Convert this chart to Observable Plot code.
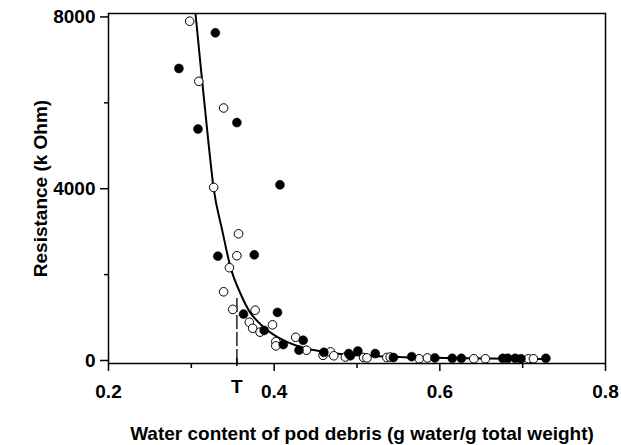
<!DOCTYPE html>
<html>
<head>
<meta charset="utf-8">
<script src="https://cdn.jsdelivr.net/npm/d3@7"></script>
<script src="https://cdn.jsdelivr.net/npm/@observablehq/plot@0.6"></script>
<style>
  html, body { margin: 0; padding: 0; background: #fff; }
  #chart svg { font-family: "Liberation Sans", Arial, Helvetica, sans-serif; }
</style>
</head>
<body>
<div id="chart"></div>
<script>
// Open circles (series 1)
const openX = [0.298, 0.309, 0.339, 0.327, 0.357, 0.355, 0.346, 0.339, 0.350, 0.377, 0.370, 0.374, 0.383, 0.398, 0.402, 0.402, 0.426, 0.439, 0.459, 0.468, 0.472, 0.486, 0.508, 0.512, 0.536, 0.540, 0.575, 0.585, 0.641, 0.655, 0.707, 0.713];
const openY = [7900, 6500, 5880, 4030, 2950, 2440, 2160, 1600, 1190, 1170, 890, 750, 660, 830, 440, 340, 540, 240, 120, 200, 110, 80, 70, 60, 70, 80, 40, 60, 40, 40, 40, 40];

// Filled circles (series 2)
const filledX = [0.285, 0.329, 0.308, 0.355, 0.407, 0.332, 0.376, 0.363, 0.404, 0.388, 0.411, 0.435, 0.430, 0.460, 0.490, 0.492, 0.501, 0.522, 0.544, 0.566, 0.594, 0.615, 0.626, 0.676, 0.682, 0.691, 0.698, 0.728];
const filledY = [6800, 7630, 5390, 5540, 4090, 2430, 2460, 1080, 1120, 700, 370, 470, 240, 190, 160, 110, 220, 160, 70, 90, 60, 50, 50, 50, 50, 50, 40, 50];

// Fitted curve
const curveX = [0.305, 0.3126, 0.3204, 0.3268, 0.3373, 0.3473, 0.3594, 0.3694, 0.3875, 0.4116, 0.4399, 0.464, 0.48, 0.50, 0.556, 0.61, 0.66, 0.73];
const curveY = [8080, 6600, 5127, 4025, 3030, 2174, 1554, 1165, 776, 466, 273, 193, 150, 120, 77, 60, 45, 35];

// Threshold T
const tValue = 0.355;
const tTop = 1500;
const tLabel = "T";

// Ticks
const xTicks = [0.2, 0.4, 0.6, 0.8];
const xMinorTicks = [0.3, 0.5, 0.7];
const yTicks = [0, 4000, 8000];
const yMinorTicks = [2000, 6000];

const xTitle = "Water content of pod debris (g water/g total weight)";
const yTitle = "Resistance (k Ohm)";

const openData = openX.map((x, i) => ({x, y: openY[i]}));
const filledData = filledX.map((x, i) => ({x, y: filledY[i]}));
const curveData = curveX.map((x, i) => ({x, y: curveY[i]}));

const yMin = -70, yMax = 8080;

const chart = Plot.plot({
  width: 621,
  height: 445,
  marginLeft: 108,
  marginRight: 16,
  marginTop: 13,
  marginBottom: 82,
  x: {domain: [0.2, 0.8]},
  y: {domain: [yMin, yMax]},
  marks: [
    Plot.ruleX([tValue], {y1: yMin, y2: tTop, stroke: "#000", strokeWidth: 1.3, strokeDasharray: "14,3"}),
    Plot.line(curveData, {x: "x", y: "y", curve: "monotone-x", stroke: "#000", strokeWidth: 2, clip: true}),
    Plot.dot(openData, {x: "x", y: "y", r: 4.3, fill: "#fff", stroke: "#000", strokeWidth: 1}),
    Plot.dot(filledData, {x: "x", y: "y", r: 4.5, fill: "#000", stroke: "#000", strokeWidth: 0.5}),
    Plot.frame({stroke: "#000", strokeWidth: 1.5}),
    Plot.axisX({ticks: xTicks, tickSize: 8, tickPadding: 13, tickFormat: d => d.toFixed(1), fontSize: 19, fontWeight: "bold", label: null, strokeWidth: 1.5}),
    Plot.axisX({ticks: xMinorTicks, tickSize: 5, tickFormat: () => "", label: null, strokeWidth: 1.5}),
    Plot.axisX({ticks: [tValue], tickSize: 8, tickPadding: 13, tickFormat: () => tLabel, dy: -5, fontSize: 19, fontWeight: "bold", label: null, strokeWidth: 1.5}),
    Plot.axisY({ticks: yTicks, tickSize: 8, tickPadding: 5, tickFormat: d => String(d), fontSize: 19, fontWeight: "bold", label: null, strokeWidth: 1.5}),
    Plot.axisY({ticks: yMinorTicks, tickSize: 4, tickFormat: () => "", label: null, strokeWidth: 1.5}),
    Plot.text([xTitle], {frameAnchor: "bottom", dx: 5, dy: 70, textAnchor: "middle", lineAnchor: "middle", fontSize: 19, fontWeight: "bold", fill: "#000"}),
    Plot.text([yTitle], {frameAnchor: "left", dx: -68, rotate: -90, textAnchor: "middle", lineAnchor: "middle", fontSize: 19, fontWeight: "bold", fill: "#000"})
  ]
});
document.getElementById("chart").appendChild(chart);
</script>
</body>
</html>
